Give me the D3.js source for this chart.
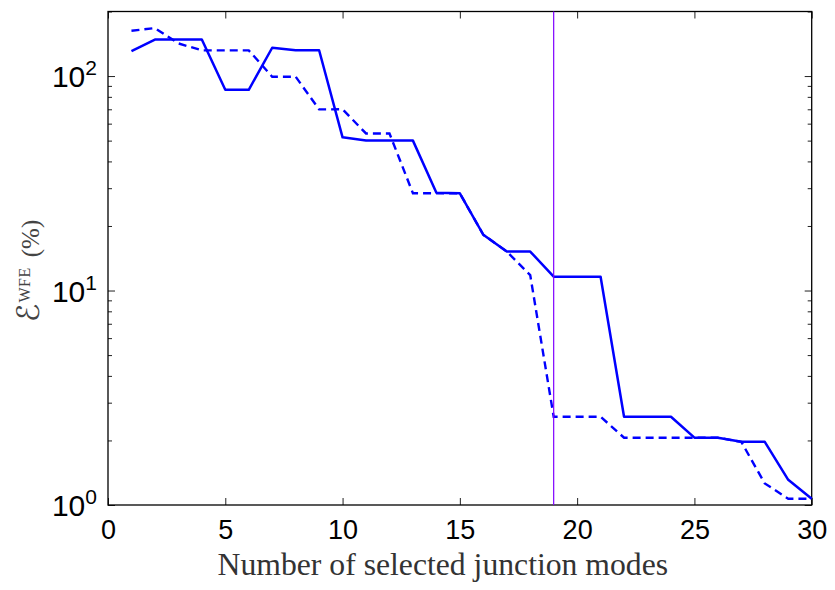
<!DOCTYPE html>
<html>
<head>
<meta charset="utf-8">
<script src="https://cdn.jsdelivr.net/npm/d3@7"></script>
<style>
  body { margin: 0; background: #fff; }
  svg { display: block; }
</style>
</head>
<body>
<svg id="chart" width="835" height="590"></svg>
<script>
// Number of selected junction modes
const modes = d3.range(1, 31);

// Error for each selection size (solid curve)
const errorSolid = [130.8, 148, 148, 148, 86.3, 86.3, 135.5, 132, 132, 51.8,
                    50.1, 50, 50, 28.6, 28.4, 18.2, 15.2, 15.2, 11.6, 11.6,
                    11.6, 2.58, 2.58, 2.58, 2.06, 2.06, 1.97, 1.97, 1.31, 1.07];

// Error for each selection size (dashed curve)
const errorDashed = [162.7, 167.4, 142, 131.8, 131.8, 131.8, 99.3, 99.3, 69.9, 70,
                     54, 54, 28.4, 28.4, 28.4, 18.2, 15.2, 11.8, 2.58, 2.58,
                     2.58, 2.06, 2.06, 2.06, 2.06, 2.06, 1.97, 1.26, 1.07, 1.07];

const xTicks = [0, 5, 10, 15, 20, 25, 30];
const yMajorTicks = [1, 10, 100];
const yMinorTicks = [2, 3, 4, 5, 6, 7, 8, 9, 20, 30, 40, 50, 60, 70, 80, 90, 200];
const yTickExponents = ["0", "1", "2"];
const markerMode = 19;

const svg = d3.select("#chart");
const plotLeft = 108, plotRight = 811.7, plotTop = 11.5, plotBottom = 505;

const x = d3.scaleLinear().domain([0, 30]).range([plotLeft, plotRight]);
const y = d3.scaleLog().domain([1, 200]).range([plotBottom, plotTop]);

const tickColor = "#222";

// Bottom and top axes with inward ticks
const gx = svg.append("g").attr("transform", `translate(0,${plotBottom})`)
  .call(d3.axisBottom(x).tickValues(xTicks).tickSize(-7).tickPadding(15).tickFormat(d3.format("d")));
gx.selectAll("text").attr("font-family", "Liberation Sans, Arial, sans-serif")
  .attr("font-size", 27).attr("fill", "#000");
svg.append("g").attr("transform", `translate(0,${plotTop})`)
  .call(d3.axisTop(x).tickValues(xTicks).tickSize(-7).tickFormat(""));

// Left and right axes: major and minor ticks pointing inward
svg.append("g").attr("transform", `translate(${plotLeft},0)`)
  .call(d3.axisLeft(y).tickValues(yMajorTicks).tickSize(-7).tickFormat(""));
svg.append("g").attr("transform", `translate(${plotLeft},0)`)
  .call(d3.axisLeft(y).tickValues(yMinorTicks).tickSize(-4).tickFormat(""));
svg.append("g").attr("transform", `translate(${plotRight},0)`)
  .call(d3.axisRight(y).tickValues(yMajorTicks).tickSize(-7).tickFormat(""));
svg.append("g").attr("transform", `translate(${plotRight},0)`)
  .call(d3.axisRight(y).tickValues(yMinorTicks).tickSize(-4).tickFormat(""));

svg.selectAll(".domain").remove();
svg.selectAll(".tick line").attr("stroke", tickColor).attr("stroke-width", 1);

// Power-of-ten labels on the y axis
yMajorTicks.forEach((v, i) => {
  const t = svg.append("text")
    .attr("x", 97).attr("y", y(v) + 11)
    .attr("text-anchor", "end")
    .attr("font-family", "Liberation Sans, Arial, sans-serif")
    .attr("fill", "#000");
  t.append("tspan").attr("font-size", 30).text("10");
  t.append("tspan").attr("font-size", 21).attr("dy", -12).text(yTickExponents[i]);
});

// Plot frame
svg.append("rect")
  .attr("x", plotLeft).attr("y", plotTop)
  .attr("width", plotRight - plotLeft).attr("height", plotBottom - plotTop)
  .attr("fill", "none").attr("stroke", "#000").attr("stroke-width", 1.3);

const line = d3.line().x((d, i) => x(modes[i])).y(d => y(d));

const plot = svg.append("g");
plot.append("path").datum(errorDashed)
  .attr("d", line).attr("fill", "none")
  .attr("stroke", "#0000ff").attr("stroke-width", 2.4)
  .attr("stroke-dasharray", "8,5");
plot.append("path").datum(errorSolid)
  .attr("d", line).attr("fill", "none")
  .attr("stroke", "#0000ff").attr("stroke-width", 2.5)
  .attr("stroke-linejoin", "round");

// Marker at the chosen number of modes
plot.append("line")
  .attr("x1", x(markerMode)).attr("x2", x(markerMode))
  .attr("y1", plotTop).attr("y2", plotBottom)
  .attr("stroke", "#7f00ff").attr("stroke-width", 1.2);

// Axis titles
svg.append("text")
  .attr("x", (plotLeft + plotRight) / 2 - 17).attr("y", 575)
  .attr("text-anchor", "middle")
  .attr("font-family", "Liberation Serif, Times New Roman, serif")
  .attr("font-size", 31.7).attr("fill", "#333")
  .text("Number of selected junction modes");

const yt = svg.append("text")
  .attr("transform", `translate(39,271) rotate(-90)`)
  .attr("text-anchor", "middle")
  .attr("font-family", "Liberation Serif, Times New Roman, serif")
  .attr("fill", "#444");
yt.append("tspan").attr("font-family", "DejaVu Serif, DejaVu Sans, serif")
  .attr("font-size", 31).text("\u2130");
yt.append("tspan").attr("font-size", 16).attr("dy", -9).attr("dx", 1)
  .attr("letter-spacing", 0.5).text("WFE");
yt.append("tspan").attr("font-size", 25).attr("dy", 9).attr("dx", 10).text("(%)");
</script>
</body>
</html>
